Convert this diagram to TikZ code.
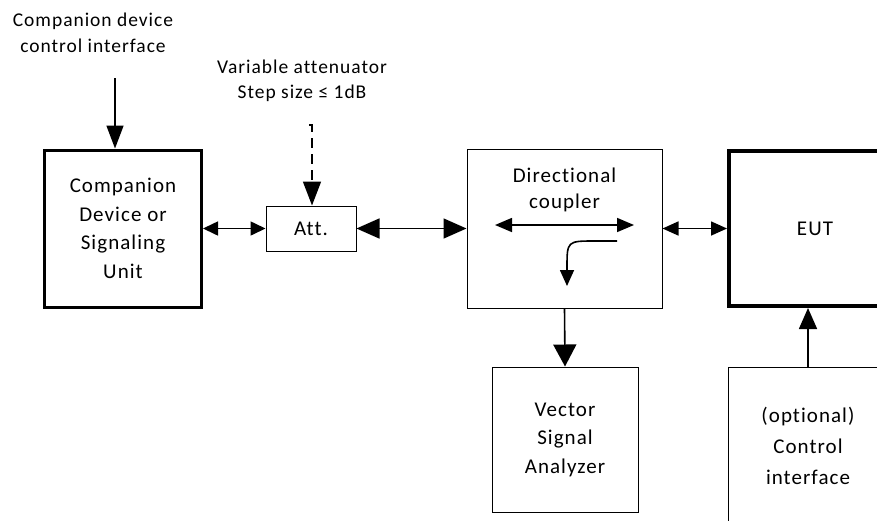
\documentclass[tikz,border=0pt]{standalone}
\usepackage{fontspec}
\setmainfont{Carlito}[LetterSpace=5,Ligatures={NoCommon}]
\usetikzlibrary{arrows.meta}
\begin{document}
\begin{tikzpicture}[x=1pt,y=-1pt,
  box/.style={draw,line width=1pt,inner sep=0pt,align=center,font=\fontsize{21}{28.5}\selectfont},
  lab/.style={inner sep=0pt,align=center,font=\fontsize{19.5}{26}\selectfont},
  conn/.style={line width=1.6pt},
]
\useasboundingbox (0,0) rectangle (877,520);
\clip (0,0) rectangle (877,520);
\node[box,line width=3pt,minimum width=157pt,minimum height=157pt] (comp) at (123,228.5) {Companion\\Device or\\Signaling\\Unit};
\node[box,minimum width=90pt,minimum height=45pt] (att) at (311,228.5) {Att.};
\node[box,minimum width=195pt,minimum height=159pt] (coup) at (564.5,228.5) {};
\node[lab,font=\fontsize{21}{26}\selectfont] (couptext) at (564.5,190) {Directional\\coupler};
\node[box,line width=4pt,minimum width=172pt,minimum height=155pt] (eut) at (815,228.5) {EUT};
\node[box,minimum width=146pt,minimum height=145pt] (vsa) at (565,439.5) {Vector\\Signal\\Analyzer};
\node[box,minimum width=160pt,minimum height=158pt,font=\fontsize{21}{31}\selectfont] (ctrl) at (808,446) {(optional)\\Control\\interface};
\node[lab] (cilab) at (93,33) {Companion device\\control interface};
\node[lab,font=\fontsize{19.5}{25}\selectfont] (valab) at (302,81) {Variable attenuator\\Step size ≤ 1dB};
% connectors
\coordinate (ci) at (115,78);
\draw[conn,-{Triangle[length=23pt,width=17pt]}] (ci) -- (ci |- comp.north);
\coordinate (va0) at (309,125);
\coordinate (va) at (312,125);
\draw[conn,dash pattern=on 10pt off 6pt,-{Triangle[length=24pt,width=18pt]}] (va0) -- (va) -- (va |- att.north);
\draw[conn,{Triangle[length=15pt,width=14pt]}-{Triangle[length=15pt,width=14pt]}] (comp.east) -- (att.west);
\draw[conn,{Triangle[length=23pt,width=20pt]}-{Triangle[length=23pt,width=20pt]}] (att.east) -- (coup.west);
\draw[conn,{Triangle[length=16pt,width=14pt]}-{Triangle[length=16pt,width=14pt]}] (coup.east) -- (eut.west);
\draw[conn,-{Triangle[length=22pt,width=23pt]}] (coup.south) -- (vsa.north);
\draw[conn,-{Triangle[length=21pt,width=18pt]}] (ctrl.north) -- (ctrl.north |- eut.south);
% inside coupler
\coordinate (c1) at (495,225);
\coordinate (c2) at (634,225);
\draw[conn,{Triangle[length=17pt,width=14pt]}-{Triangle[length=17pt,width=14pt]}] (c1) -- (c2);
\coordinate (d1) at (617,241);
\coordinate (d2) at (567,286);
\draw[conn,-{Triangle[length=16pt,width=14pt]}] (d1) -- (595,241) .. controls (567,241) .. (567,268) -- (d2);
\end{tikzpicture}
\end{document}
